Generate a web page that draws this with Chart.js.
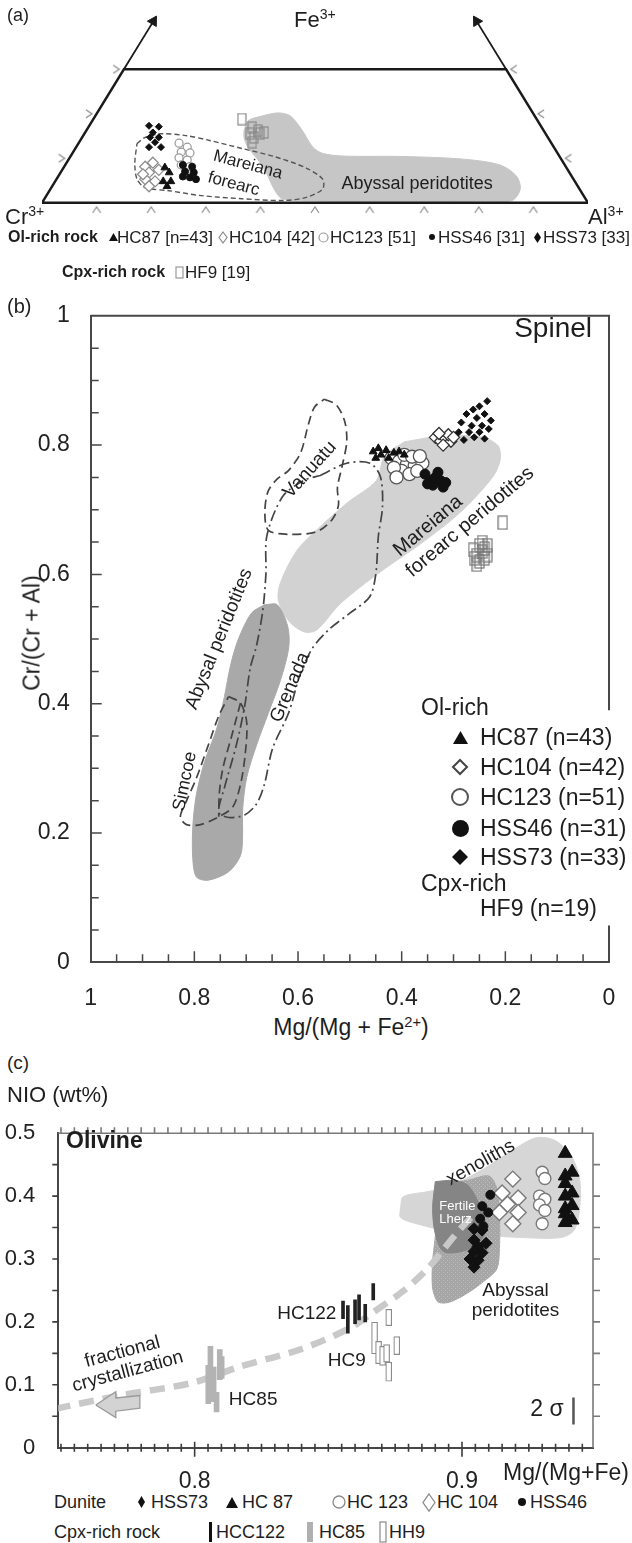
<!DOCTYPE html>
<html lang="en">
<head>
<meta charset="utf-8">
<title>Spinel and olivine compositions</title>
<script src="https://cdn.jsdelivr.net/npm/chart.js@4.4.1/dist/chart.umd.min.js"></script>
<style>
  html, body { margin: 0; padding: 0; background: #ffffff; }
  #page { position: relative; width: 632px; height: 1543px; overflow: hidden;
          font-family: "Liberation Sans", Arial, Helvetica, sans-serif; color: #1e1e1e; }
  #page canvas { position: absolute; left: 0; }
  .lb { position: absolute; white-space: nowrap; line-height: 1; }
  .lb sup { font-size: 0.64em; vertical-align: baseline; position: relative; top: -0.55em; }
  .b { font-weight: bold; }
</style>
</head>
<body>
<div id="page">
  <canvas id="chartA" width="632" height="232" style="top:0"></canvas>
  <canvas id="chartB" width="632" height="721" style="top:289px"></canvas>
  <canvas id="chartC" width="632" height="385" style="top:1105px"></canvas>

  <!-- panel (a) -->
  <div class="lb" style="left:7px;top:6px;font-size:18px">(a)</div>
  <div class="lb" style="left:294px;top:9px;font-size:22px">Fe<sup>3+</sup></div>
  <div class="lb" style="left:5px;top:206px;font-size:22px">Cr<sup>3+</sup></div>
  <div class="lb" style="left:588px;top:206px;font-size:22px">Al<sup>3+</sup></div>
  <div class="lb b" style="left:8px;top:229px;font-size:16px">Ol-rich rock</div>
  <div class="lb" style="left:117px;top:229px;font-size:17px">HC87 [n=43]</div>
  <div class="lb" style="left:229px;top:229px;font-size:17px">HC104 [42]</div>
  <div class="lb" style="left:330px;top:229px;font-size:17px">HC123 [51]</div>
  <div class="lb" style="left:438px;top:229px;font-size:17px">HSS46 [31]</div>
  <div class="lb" style="left:543px;top:229px;font-size:17px">HSS73 [33]</div>
  <div class="lb b" style="left:62px;top:264px;font-size:16px">Cpx-rich rock</div>
  <div class="lb" style="left:185px;top:264px;font-size:17px">HF9 [19]</div>

  <!-- panel (b) -->
  <div class="lb" style="left:7px;top:296px;font-size:20px">(b)</div>
  <div class="lb" style="right:40px;top:314px;font-size:28px">Spinel</div>
  <div class="lb" style="left:32px;top:633px;font-size:23px;transform:translate(-50%,-50%) rotate(-90deg)">Cr/(Cr + Al)</div>
  <div class="lb" style="left:351px;top:1027px;font-size:23px;transform:translate(-50%,-50%)">Mg/(Mg + Fe<sup>2+</sup>)</div>
  <div class="lb" style="left:421px;top:696px;font-size:23px">Ol-rich</div>
  <div class="lb" style="left:480px;top:726px;font-size:23px">HC87 (n=43)</div>
  <div class="lb" style="left:480px;top:756px;font-size:23px">HC104 (n=42)</div>
  <div class="lb" style="left:480px;top:786px;font-size:23px">HC123 (n=51)</div>
  <div class="lb" style="left:480px;top:817px;font-size:23px">HSS46 (n=31)</div>
  <div class="lb" style="left:480px;top:846px;font-size:23px">HSS73 (n=33)</div>
  <div class="lb" style="left:421px;top:872px;font-size:23px">Cpx-rich</div>
  <div class="lb" style="left:480px;top:897px;font-size:23px">HF9 (n=19)</div>

  <!-- panel (c) -->
  <div class="lb" style="left:7px;top:1053px;font-size:19px">(c)</div>
  <div class="lb" style="left:7px;top:1084px;font-size:22px">NIO (wt%)</div>
  <div class="lb b" style="left:66px;top:1129px;font-size:23px">Olivine</div>
  <div class="lb" style="left:503px;top:1461px;font-size:23px">Mg/(Mg+Fe)</div>
  <div class="lb" style="left:54px;top:1493px;font-size:18px">Dunite</div>
  <div class="lb" style="left:151px;top:1493px;font-size:18px">HSS73</div>
  <div class="lb" style="left:242px;top:1493px;font-size:18px">HC 87</div>
  <div class="lb" style="left:347px;top:1493px;font-size:18px">HC 123</div>
  <div class="lb" style="left:437px;top:1493px;font-size:18px">HC 104</div>
  <div class="lb" style="left:530px;top:1493px;font-size:18px">HSS46</div>
  <div class="lb" style="left:54px;top:1523px;font-size:18px">Cpx-rich rock</div>
  <div class="lb" style="left:216px;top:1523px;font-size:18px">HCC122</div>
  <div class="lb" style="left:319px;top:1523px;font-size:18px">HC85</div>
  <div class="lb" style="left:389px;top:1523px;font-size:18px">HH9</div>
</div>

<script>
const FONT = '"Liberation Sans", Arial, Helvetica, sans-serif';
Chart.defaults.font.family = FONT;
Chart.defaults.color = '#222';

// ---------- panel (a): Cr - Al - Fe3+ ternary, plotted as x = Al + Fe/2, y = Fe ----------
const aFeCut = 0.3;
const aTickFracs = [0.1, 0.2, 0.3, 0.4, 0.5, 0.6, 0.7, 0.8, 0.9];
const aSideFe = [0.1, 0.2, 0.3];
const aAbyssal = [[0.370,0.162],[0.377,0.184],[0.403,0.195],[0.433,0.202],[0.455,0.195],[0.477,0.162],[0.496,0.125],[0.514,0.111],[0.551,0.105],[0.662,0.104],[0.772,0.098],[0.839,0.085],[0.869,0.060],[0.876,0.031],[0.861,0.005],[0.809,0.002],[0.662,0.002],[0.499,0.004],[0.440,0.009],[0.425,0.031],[0.411,0.067],[0.396,0.096],[0.377,0.125],[0.370,0.147],[0.370,0.162]];
const aForearc = [[0.174,0.133],[0.189,0.147],[0.218,0.155],[0.263,0.151],[0.307,0.140],[0.366,0.122],[0.425,0.104],[0.484,0.078],[0.514,0.053],[0.514,0.031],[0.484,0.012],[0.440,0.005],[0.366,0.009],[0.292,0.016],[0.233,0.027],[0.189,0.034],[0.174,0.053],[0.170,0.089],[0.174,0.133]];
const aHSS73 = [[0.196,0.173],[0.214,0.171],[0.203,0.158],[0.198,0.147],[0.214,0.147],[0.207,0.136],[0.196,0.125],[0.218,0.125]];
const aHC104 = [[0.189,0.081],[0.203,0.090],[0.214,0.074],[0.196,0.068],[0.189,0.053],[0.207,0.048],[0.196,0.037],[0.185,0.064]];
const aHC87 = [[0.225,0.079],[0.233,0.068],[0.222,0.048],[0.236,0.048],[0.229,0.037]];
const aHC123 = [[0.251,0.134],[0.266,0.125],[0.255,0.114],[0.271,0.112],[0.251,0.101],[0.266,0.096],[0.255,0.085],[0.271,0.081]];
const aHSS46 = [[0.258,0.085],[0.275,0.081],[0.262,0.070],[0.278,0.068],[0.258,0.059],[0.271,0.057],[0.282,0.053]];
const aHF9 = [[0.366,0.188],[0.385,0.169],[0.396,0.162],[0.407,0.158],[0.381,0.155],[0.388,0.147],[0.399,0.155],[0.385,0.136]];
const aNotes = [
  {text: 'Mareiana', x: 0.377, y: 0.085, rot: 15, size: 17},
  {text: 'forearc', x: 0.351, y: 0.042, rot: 15, size: 17},
  {text: 'Abyssal peridotites', x: 0.687, y: 0.042, size: 18}
];

// ---------- panel (b): spinel Cr# vs Mg# ----------
const bXTicks = [0, 0.2, 0.4, 0.6, 0.8, 1];
const bXLabels = ['0', '0.2', '0.4', '0.6', '0.8', '1'];
const bYTicks = [0, 0.2, 0.4, 0.6, 0.8, 1];
const bYLabels = ['0', '0.2', '0.4', '0.6', '0.8', '1'];
const bRightGap = [0.057, 0.39];
const bForearc = [[0.395,0.805],[0.325,0.814],[0.248,0.813],[0.214,0.799],[0.210,0.777],[0.225,0.750],[0.287,0.696],[0.364,0.647],[0.441,0.604],[0.518,0.555],[0.564,0.514],[0.588,0.511],[0.618,0.528],[0.638,0.560],[0.634,0.587],[0.603,0.636],[0.557,0.674],[0.503,0.712],[0.449,0.745],[0.433,0.783],[0.395,0.805]];
const bAbyssal = [[0.665,0.553],[0.640,0.553],[0.620,0.520],[0.618,0.486],[0.634,0.436],[0.657,0.386],[0.680,0.336],[0.699,0.286],[0.707,0.235],[0.707,0.195],[0.711,0.165],[0.734,0.140],[0.773,0.127],[0.796,0.132],[0.803,0.160],[0.803,0.210],[0.796,0.260],[0.780,0.311],[0.757,0.361],[0.742,0.411],[0.730,0.460],[0.715,0.500],[0.690,0.540],[0.665,0.553]];
const bVanuatu = [[0.549,0.871],[0.526,0.862],[0.510,0.837],[0.506,0.805],[0.515,0.767],[0.524,0.734],[0.522,0.707],[0.534,0.685],[0.564,0.666],[0.618,0.662],[0.657,0.668],[0.664,0.695],[0.658,0.728],[0.641,0.747],[0.618,0.761],[0.595,0.788],[0.580,0.832],[0.568,0.859],[0.549,0.871]];
const bGrenada = [[0.557,0.753],[0.506,0.772],[0.461,0.772],[0.441,0.751],[0.437,0.705],[0.445,0.659],[0.450,0.600],[0.462,0.565],[0.500,0.540],[0.540,0.515],[0.572,0.486],[0.596,0.445],[0.618,0.386],[0.649,0.331],[0.665,0.275],[0.680,0.245],[0.703,0.228],[0.734,0.224],[0.753,0.232],[0.742,0.270],[0.719,0.336],[0.703,0.396],[0.692,0.456],[0.680,0.490],[0.668,0.544],[0.662,0.600],[0.660,0.660],[0.630,0.720],[0.590,0.745],[0.557,0.753]];
const bSimcoe = [[0.734,0.411],[0.711,0.401],[0.699,0.371],[0.702,0.321],[0.711,0.275],[0.726,0.240],[0.753,0.225],[0.788,0.213],[0.815,0.213],[0.827,0.225],[0.815,0.250],[0.796,0.285],[0.773,0.336],[0.753,0.381],[0.734,0.411]];
const bSimcoeInner = [[0.711,0.401],[0.728,0.350],[0.745,0.300],[0.752,0.260],[0.753,0.225]];
const bHSS73 = [[0.235,0.868],[0.250,0.860],[0.262,0.855],[0.240,0.848],[0.275,0.848],[0.255,0.842],[0.228,0.838],[0.285,0.835],[0.265,0.830],[0.245,0.830],[0.270,0.820],[0.250,0.820],[0.290,0.820],[0.232,0.825],[0.260,0.812],[0.280,0.808],[0.240,0.810]];
const bHC104 = [[0.335,0.812],[0.325,0.806],[0.315,0.810],[0.305,0.806],[0.320,0.800],[0.310,0.816],[0.328,0.818],[0.300,0.812]];
const bHC123 = [[0.420,0.780],[0.405,0.775],[0.390,0.770],[0.375,0.768],[0.360,0.772],[0.400,0.760],[0.385,0.755],[0.370,0.760],[0.415,0.765],[0.395,0.785],[0.380,0.782],[0.365,0.783],[0.410,0.750]];
const bHSS46 = [[0.355,0.755],[0.345,0.745],[0.335,0.750],[0.325,0.745],[0.315,0.742],[0.340,0.738],[0.320,0.735],[0.350,0.740],[0.330,0.758]];
const bHC87 = [[0.455,0.790],[0.445,0.795],[0.440,0.785],[0.430,0.792],[0.425,0.780],[0.415,0.788],[0.405,0.790],[0.395,0.785],[0.450,0.780]];
const bHF9 = [[0.250,0.645],[0.245,0.635],[0.255,0.630],[0.240,0.640],[0.260,0.625],[0.235,0.630],[0.250,0.620],[0.262,0.638],[0.245,0.650],[0.235,0.645],[0.255,0.615],[0.240,0.625],[0.205,0.680]];
const bNotes = [
  {text: 'Vanuatu', x: 0.577, y: 0.762, rot: -48, size: 19},
  {text: 'Abysal peridotites', x: 0.752, y: 0.500, rot: -68, size: 19},
  {text: 'Grenada', x: 0.615, y: 0.425, rot: -67, size: 19},
  {text: 'Simcoe', x: 0.818, y: 0.280, rot: -78, size: 18},
  {text: 'Mareiana', x: 0.349, y: 0.675, rot: -40, size: 20},
  {text: 'forearc peridotites', x: 0.268, y: 0.681, rot: -40, size: 20}
];

// ---------- panel (c): olivine NiO vs Mg# ----------
const cXTicks = [0.8, 0.9];
const cXLabels = ['0.8', '0.9'];
const cYTicks = [0, 0.1, 0.2, 0.3, 0.4, 0.5];
const cYLabels = ['0', '0.1', '0.2', '0.3', '0.4', '0.5'];
const cXeno = [[0.877,0.381],[0.878,0.399],[0.887,0.407],[0.895,0.415],[0.908,0.443],[0.920,0.476],[0.928,0.493],[0.935,0.488],[0.941,0.463],[0.944,0.427],[0.944,0.381],[0.942,0.346],[0.937,0.334],[0.923,0.334],[0.908,0.338],[0.893,0.346],[0.883,0.356],[0.877,0.366],[0.877,0.381]];
const cAbyssal = [[0.890,0.417],[0.895,0.422],[0.902,0.425],[0.910,0.432],[0.913,0.412],[0.914,0.366],[0.914,0.315],[0.913,0.284],[0.908,0.264],[0.901,0.243],[0.895,0.231],[0.891,0.232],[0.889,0.254],[0.889,0.295],[0.890,0.335],[0.891,0.376],[0.890,0.417]];
const cFertile = [[0.890,0.423],[0.897,0.425],[0.902,0.418],[0.905,0.400],[0.908,0.370],[0.909,0.345],[0.906,0.325],[0.900,0.312],[0.893,0.312],[0.890,0.340],[0.889,0.380],[0.890,0.423]];
const cTrend = [[0.748,0.062],[0.772,0.083],[0.799,0.103],[0.817,0.129],[0.840,0.157],[0.858,0.190],[0.866,0.213],[0.878,0.249],[0.887,0.284],[0.893,0.315],[0.899,0.346],[0.904,0.369]];
const cArrow = [[0.763,0.068],[0.7705,0.089],[0.7705,0.079],[0.7795,0.083],[0.7795,0.063],[0.7705,0.058],[0.7705,0.048],[0.763,0.068]];
const c2Sigma = [[0.9417,0.037],[0.9417,0.080]];
const cHC87 = [[0.9386,0.468],[0.9412,0.438],[0.9386,0.432],[0.9386,0.420],[0.9412,0.405],[0.9386,0.400],[0.9412,0.385],[0.9386,0.380],[0.9386,0.372],[0.9412,0.362],[0.9386,0.358]];
const cHC123 = [[0.930,0.438],[0.931,0.428],[0.929,0.400],[0.931,0.395],[0.929,0.386],[0.931,0.377],[0.930,0.356]];
const cHC104 = [[0.919,0.427],[0.915,0.405],[0.921,0.397],[0.917,0.387],[0.914,0.374],[0.921,0.374],[0.919,0.356]];
const cHSS46 = [[0.9106,0.402],[0.9076,0.384],[0.9098,0.374],[0.9068,0.364],[0.9080,0.352]];
const cHSS73 = [[0.9045,0.348],[0.9075,0.346],[0.9045,0.330],[0.9090,0.325],[0.9060,0.320],[0.9045,0.312],[0.9075,0.310],[0.9030,0.300],[0.9060,0.298],[0.9045,0.287]];
// cpx-rich rocks: [Mg#, NiO low, NiO high]
const cHC122 = [[0.8555,0.205,0.233],[0.8573,0.182,0.226],[0.8600,0.197,0.235],[0.8615,0.203,0.243],[0.8638,0.200,0.228],[0.8668,0.235,0.261]];
const cHC85 = [[0.8051,0.070,0.131],[0.8059,0.093,0.161],[0.8071,0.073,0.128],[0.8082,0.057,0.088],[0.8094,0.108,0.156],[0.8101,0.110,0.145]];
const cHH9 = [[0.8673,0.149,0.1995],[0.8688,0.1335,0.169],[0.8703,0.131,0.161],[0.8718,0.136,0.164],[0.8726,0.1056,0.136],[0.8756,0.148,0.1766],[0.8726,0.194,0.220]];
const cNotes = [
  {text: 'xenoliths', x: 0.907, y: 0.453, rot: -29, size: 19},
  {text: 'Fertile', x: 0.8915, y: 0.384, size: 13, color: '#ffffff', align: 'left'},
  {text: 'Lherz', x: 0.8915, y: 0.363, size: 13, color: '#ffffff', align: 'left'},
  {text: 'Abyssal', x: 0.920, y: 0.249, size: 19},
  {text: 'peridotites', x: 0.920, y: 0.218, size: 19},
  {text: 'HC122', x: 0.853, y: 0.213, size: 19, align: 'right'},
  {text: 'HC9', x: 0.864, y: 0.139, size: 19, align: 'right'},
  {text: 'HC85', x: 0.8128, y: 0.0757, size: 19, align: 'left'},
  {text: 'fractional', x: 0.773, y: 0.152, rot: -15, size: 19},
  {text: 'crystallization', x: 0.775, y: 0.121, rot: -15, size: 19},
  {text: '2 σ', x: 0.938, y: 0.060, size: 23, align: 'right'}
];

// ---------- helpers ----------
const P = arr => arr.map(([x, y]) => ({x, y}));

function region(arr, color, order) {
  return {data: P(arr), showLine: true, fill: 'shape', backgroundColor: color, borderColor: color,
          borderWidth: 1, pointRadius: 0, tension: 0.3, order};
}
function outline(arr, color, dash, width, order) {
  return {data: P(arr), showLine: true, fill: false, borderColor: color, borderWidth: width,
          borderDash: dash, pointRadius: 0, tension: 0.3, order};
}
function marks(arr, style, radius, bg, border, bw, order) {
  return {data: P(arr), pointStyle: style, pointRadius: radius, backgroundColor: bg,
          borderColor: border, borderWidth: bw, order: order || 0};
}
function ranges(arr, width, bg, border, bw) {
  return {type: 'bar', data: arr.map(([x, lo, hi]) => ({x, y: [lo, hi]})), barThickness: width,
          grouped: false, backgroundColor: bg, borderColor: border, borderWidth: bw,
          borderSkipped: false, order: 0};
}
function chevron(dir) {
  const c = document.createElement('canvas');
  c.width = 10; c.height = 10;
  const g = c.getContext('2d');
  g.strokeStyle = '#8a8a8a'; g.lineWidth = 1.2;
  g.beginPath();
  if (dir === 'up') { g.moveTo(1, 8); g.lineTo(5, 2); g.lineTo(9, 8); }
  else if (dir === 'right') { g.moveTo(2, 1); g.lineTo(8, 5); g.lineTo(2, 9); }
  else { g.moveTo(8, 1); g.lineTo(2, 5); g.lineTo(8, 9); }
  g.stroke();
  return c;
}
function boxImg(w, h, color) {
  const c = document.createElement('canvas');
  c.width = w + 2; c.height = h + 2;
  const g = c.getContext('2d');
  g.strokeStyle = color; g.lineWidth = 1.2;
  g.strokeRect(1, 1, w, h);
  return c;
}
function dotPattern(base, dot) {
  const c = document.createElement('canvas');
  c.width = 4; c.height = 4;
  const g = c.getContext('2d');
  g.fillStyle = base; g.fillRect(0, 0, 4, 4);
  g.fillStyle = dot; g.fillRect(1, 1, 1, 1); g.fillRect(3, 3, 1, 1);
  return g.createPattern(c, 'repeat');
}
function notesPlugin(items) {
  return {
    id: 'notes',
    afterDatasetsDraw(chart) {
      const {ctx, scales: {x, y}} = chart;
      items.forEach(n => {
        ctx.save();
        ctx.translate(x.getPixelForValue(n.x), y.getPixelForValue(n.y));
        ctx.rotate((n.rot || 0) * Math.PI / 180);
        ctx.font = n.size + 'px ' + FONT;
        ctx.fillStyle = n.color || '#1e1e1e';
        ctx.textAlign = n.align || 'center';
        ctx.textBaseline = 'middle';
        ctx.fillText(n.text, 0, 0);
        ctx.restore();
      });
    }
  };
}
function fixedTicks(values, labels, size, padding, extra) {
  return Object.assign({
    afterBuildTicks: s => { s.ticks = values.map(v => ({value: v})); },
    grid: {display: false, offset: false},
    border: {display: true, color: '#474747', width: 2},
    ticks: {font: {size}, color: '#222', padding, maxRotation: 0, autoSkip: false,
            callback: (v, i) => labels[i]}
  }, extra);
}
const base = {responsive: false, animation: false, events: [],
              plugins: {legend: {display: false}, tooltip: {enabled: false}}};

// ---------- chart (a) ----------
const aTrap = [[0, 0], [1, 0], [1 - aFeCut / 2, aFeCut], [aFeCut / 2, aFeCut], [0, 0]];
new Chart(document.getElementById('chartA'), {
  type: 'scatter',
  data: {datasets: [
    marks(aHSS73, 'rectRot', 3.5, '#111', '#111', 1),
    marks(aHC87, 'triangle', 4.5, '#111', '#111', 1),
    marks(aHSS46, 'circle', 3.5, '#111', '#111', 1),
    marks(aHC104, 'rectRot', 5.5, '#ffffff', '#8c8c8c', 1.2, 0.2),
    marks(aHC123, 'circle', 4, '#ffffff', '#9a9a9a', 1.2, 0.2),
    marks(aHF9, boxImg(8, 11, '#8a8a8a'), 5, 'transparent', '#8a8a8a', 1, 0.2),
    {data: P(aTrap), showLine: true, borderColor: '#1a1a1a', borderWidth: 2.4, pointRadius: 0, order: 1},
    {data: P([[aFeCut / 2, aFeCut], [0.205, 0.41]]), showLine: true, borderColor: '#1a1a1a', borderWidth: 1.8, pointRadius: 0, order: 1},
    {data: P([[1 - aFeCut / 2, aFeCut], [0.795, 0.41]]), showLine: true, borderColor: '#1a1a1a', borderWidth: 1.8, pointRadius: 0, order: 1},
    {data: P([[0.204, 0.408], [0.796, 0.408]]), pointStyle: 'triangle', pointRadius: 6,
     rotation: [31, -31], backgroundColor: '#1a1a1a', borderColor: '#1a1a1a', borderWidth: 1, order: 1},
    {data: aTickFracs.map(f => ({x: f, y: -0.016})), pointStyle: chevron('up'), pointRadius: 4, order: 1},
    {data: aSideFe.map(f => ({x: f / 2 - 0.014, y: f})), pointStyle: chevron('right'), pointRadius: 4, order: 1},
    {data: aSideFe.map(f => ({x: 1 - f / 2 + 0.014, y: f})), pointStyle: chevron('left'), pointRadius: 4, order: 1},
    outline(aForearc, '#555555', [5, 3], 1.4, 2),
    region(aAbyssal, '#c6c6c6', 3)
  ]},
  options: Object.assign({}, base, {
    layout: {padding: {left: 42, right: 44, top: 3, bottom: 5.2}},
    scales: {
      x: {type: 'linear', display: false, min: 0, max: 1},
      y: {type: 'linear', display: false, min: -0.05, max: 0.44}
    }
  }),
  plugins: [notesPlugin(aNotes)]
});

// ---------- chart (b) ----------
const frameB = {
  id: 'frameB',
  afterDatasetsDraw(chart) {
    const {ctx, chartArea: a, scales: {x, y}} = chart;
    ctx.save();
    ctx.strokeStyle = '#474747';
    ctx.lineWidth = 2;
    ctx.beginPath();
    ctx.moveTo(a.left, a.top); ctx.lineTo(a.right, a.top);
    ctx.lineTo(a.right, y.getPixelForValue(bRightGap[1]));
    ctx.moveTo(a.right, y.getPixelForValue(bRightGap[0])); ctx.lineTo(a.right, a.bottom);
    ctx.stroke();
    ctx.lineWidth = 1.5;
    ctx.beginPath();
    for (let k = 1; k < 20; k++) {
      const v = k / 20, len = k % 4 === 0 ? 11 : 8;
      const py = y.getPixelForValue(v), px = x.getPixelForValue(v);
      ctx.moveTo(a.left, py); ctx.lineTo(a.left + len, py);
      ctx.moveTo(px, a.bottom); ctx.lineTo(px, a.bottom - len);
    }
    ctx.stroke();
    ctx.restore();
  }
};
new Chart(document.getElementById('chartB'), {
  type: 'scatter',
  data: {datasets: [
    marks(bHSS73, 'rectRot', 3.5, '#111', '#111', 1),
    marks(bHC87, 'triangle', 4.5, '#111', '#111', 1),
    marks(bHSS46, 'circle', 5, '#111', '#111', 1),
    marks(bHC104, 'rectRot', 6, '#ffffff', '#333333', 1.3, 0.1),
    marks(bHC123, 'circle', 6.5, '#ffffff', '#555555', 1.3, 0.2),
    marks(bHF9, boxImg(9, 13, '#777777'), 7, 'transparent', '#777777', 1, 0.2),
    outline(bVanuatu, '#444444', [9, 5], 1.7, 1),
    outline(bGrenada, '#444444', [11, 4, 2, 4], 1.7, 1),
    outline(bSimcoe, '#444444', [9, 5], 1.7, 1),
    outline(bSimcoeInner, '#444444', [9, 5], 1.7, 1),
    region(bAbyssal, '#a9a9a9', 2),
    region(bForearc, '#d2d2d2', 3)
  ]},
  options: Object.assign({}, base, {
    layout: {padding: {left: 0, right: 23, top: 14, bottom: 0}},
    scales: {
      x: fixedTicks(bXTicks, bXLabels, 23, 15, {type: 'linear', min: 0, max: 1, reverse: true, offset: false,
         afterFit: s => { s.height = 47.7; }}),
      y: fixedTicks(bYTicks, bYLabels, 23, 13, {type: 'linear', min: 0, max: 1,
         afterFit: s => { s.width = 90.7; }})
    }
  }),
  plugins: [notesPlugin(bNotes), frameB]
});

// ---------- chart (c) ----------
const frameC = {
  id: 'frameC',
  afterDatasetsDraw(chart) {
    const {ctx, chartArea: a, scales: {x, y}} = chart;
    ctx.save();
    ctx.lineWidth = 1.6;
    ctx.strokeStyle = '#7a7a7a';
    ctx.beginPath();
    ctx.moveTo(a.left, a.top); ctx.lineTo(a.right, a.top); ctx.lineTo(a.right, a.bottom);
    for (let k = 150; k <= 189; k++) {
      const px = x.getPixelForValue(k / 200);
      ctx.moveTo(px, a.top); ctx.lineTo(px, a.top - 6);
    }
    for (let k = 1; k < 10; k++) {
      const py = y.getPixelForValue(k / 20);
      ctx.moveTo(a.right, py); ctx.lineTo(a.right + 7, py);
    }
    ctx.stroke();
    ctx.strokeStyle = '#3c3c3c';
    ctx.beginPath();
    for (let k = 150; k <= 189; k++) {
      const px = x.getPixelForValue(k / 200), major = k % 20 === 0;
      ctx.moveTo(px, a.bottom - (major ? 6 : 4)); ctx.lineTo(px, a.bottom + (major ? 9 : 4));
    }
    for (let k = 1; k < 10; k++) {
      const py = y.getPixelForValue(k / 20);
      ctx.moveTo(a.left, py); ctx.lineTo(a.left - 6, py);
    }
    ctx.stroke();
    ctx.restore();
  }
};
new Chart(document.getElementById('chartC'), {
  type: 'scatter',
  data: {datasets: [
    marks(cHC87, 'triangle', 8, '#111', '#111', 1),
    marks(cHSS46, 'circle', 4.5, '#111', '#111', 1),
    marks(cHSS73, 'rectRot', 6, '#111', '#111', 1),
    marks(cHC123, 'circle', 6, '#ffffff', '#7a7a7a', 1.4, 0.1),
    marks(cHC104, 'rectRot', 8, '#ffffff', '#7a7a7a', 1.4, 0.1),
    ranges(cHC122, 3, '#222222', '#222222', 0),
    ranges(cHC85, 5, '#b3b3b3', '#b3b3b3', 0),
    ranges(cHH9, 6, '#ffffff', '#8a8a8a', 1.2),
    {data: P(c2Sigma), showLine: true, borderColor: '#555555', borderWidth: 2.5, pointRadius: 0, order: 1},
    {data: P(cArrow), showLine: true, fill: 'shape', backgroundColor: '#d3d3d3', borderColor: '#9a9a9a',
     borderWidth: 1.3, pointRadius: 0, tension: 0, order: 1},
    {data: P(cTrend), showLine: true, borderColor: '#c9c9c9', borderWidth: 6.5, borderDash: [15, 9],
     pointRadius: 0, tension: 0.3, order: 2},
    region(cFertile, '#858585', 3),
    region(cAbyssal, dotPattern('#a6a6a6', '#bdbdbd'), 4),
    region(cXeno, '#d6d6d6', 5)
  ]},
  options: Object.assign({}, base, {
    layout: {padding: {left: 0, right: 39, top: 14.3, bottom: 0}},
    scales: {
      x: fixedTicks(cXTicks, cXLabels, 23, 12, {type: 'linear', min: 0.749, max: 0.949, offset: false,
         afterFit: s => { s.height = 42.3; }}),
      y: fixedTicks(cYTicks, cYLabels, 22, 15, {type: 'linear', min: 0, max: 0.5,
         afterFit: s => { s.width = 58.3; }})
    }
  }),
  plugins: [notesPlugin(cNotes), frameC]
});

// ---------- legend symbols (layout only) ----------
const legendMarks = [
  ['tri', 113, 237, 9, 8, '#111'],
  ['dia', 223, 237, 8, 11, '#fff', '#8c8c8c', 1.2],
  ['cir', 323, 237, 9, 9, '#fff', '#9a9a9a', 1.2],
  ['cir', 432, 237, 6, 6, '#111'],
  ['dia', 537, 237, 7, 11, '#111'],
  ['rect', 179, 272, 7, 11, '#fff', '#9a9a9a', 1.2],
  ['tri', 460, 737, 15, 13, '#111'],
  ['dia', 460, 767, 14, 14, '#fff', '#444', 2],
  ['cir', 460, 797, 16, 16, '#fff', '#555', 2],
  ['cir', 460, 828, 17, 17, '#111'],
  ['dia', 460, 857, 16, 16, '#111'],
  ['dia', 141, 1502, 7, 12, '#111'],
  ['tri', 232, 1502, 12, 11, '#111'],
  ['cir', 339, 1502, 12, 12, '#fff', '#8a8a8a', 1.3],
  ['dia', 429, 1502, 12, 17, '#fff', '#8a8a8a', 1.3],
  ['cir', 522, 1502, 8, 8, '#111'],
  ['rect', 210, 1532, 3, 20, '#111'],
  ['rect', 310, 1532, 6, 20, '#b0b0b0'],
  ['rect', 383, 1532, 6, 20, '#fff', '#8a8a8a', 1.2]
];
const NS = 'http://www.w3.org/2000/svg';
const page = document.getElementById('page');
legendMarks.forEach(([shape, cx, cy, w, h, fill, stroke, sw]) => {
  const s = document.createElementNS(NS, 'svg');
  s.setAttribute('width', w + 4); s.setAttribute('height', h + 4);
  s.style.cssText = `position:absolute;left:${cx - w / 2 - 2}px;top:${cy - h / 2 - 2}px;overflow:visible`;
  let el;
  if (shape === 'cir') {
    el = document.createElementNS(NS, 'ellipse');
    el.setAttribute('cx', 2 + w / 2); el.setAttribute('cy', 2 + h / 2);
    el.setAttribute('rx', w / 2); el.setAttribute('ry', h / 2);
  } else if (shape === 'rect') {
    el = document.createElementNS(NS, 'rect');
    el.setAttribute('x', 2); el.setAttribute('y', 2);
    el.setAttribute('width', w); el.setAttribute('height', h);
  } else {
    el = document.createElementNS(NS, 'polygon');
    const pts = shape === 'tri'
      ? [[w / 2, 0], [w, h], [0, h]]
      : [[w / 2, 0], [w, h / 2], [w / 2, h], [0, h / 2]];
    el.setAttribute('points', pts.map(([px, py]) => (px + 2) + ',' + (py + 2)).join(' '));
  }
  el.setAttribute('fill', fill);
  el.setAttribute('stroke', stroke || 'none');
  el.setAttribute('stroke-width', sw || 0);
  s.appendChild(el);
  page.appendChild(s);
});
</script>
</body>
</html>
